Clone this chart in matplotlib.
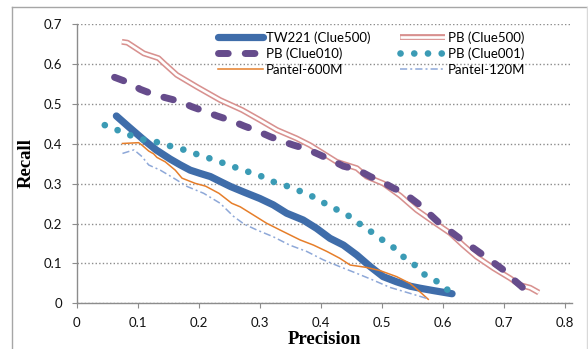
"""Recall/precision curves, Excel-style line chart."""

import matplotlib

matplotlib.use("Agg")
import matplotlib.pyplot as plt
import matplotlib.patheffects as pe
from matplotlib.lines import Line2D
from matplotlib.ticker import FuncFormatter, MultipleLocator

# Data (precision, recall)
tw221_x = [0.065, 0.085, 0.110, 0.130, 0.153, 0.170, 0.186, 0.202, 0.219, 0.236,
           0.252, 0.274, 0.300, 0.322, 0.344, 0.371, 0.393, 0.415, 0.437, 0.459,
           0.481, 0.502, 0.524, 0.546, 0.562, 0.584, 0.615]
tw221_y = [0.470, 0.443, 0.410, 0.385, 0.362, 0.347, 0.334, 0.326, 0.318, 0.305,
           0.293, 0.279, 0.263, 0.247, 0.226, 0.209, 0.188, 0.163, 0.146, 0.121,
           0.092, 0.067, 0.054, 0.043, 0.038, 0.032, 0.024]

pb500_x = [0.074, 0.083, 0.110, 0.134, 0.143, 0.164, 0.197, 0.235, 0.271, 0.300,
           0.328, 0.360, 0.382, 0.404, 0.426, 0.459, 0.475, 0.502, 0.530, 0.557,
           0.584, 0.612, 0.633, 0.655, 0.683, 0.710, 0.726, 0.743, 0.757]
pb500_y = [0.656, 0.654, 0.627, 0.615, 0.602, 0.573, 0.543, 0.510, 0.485, 0.460,
           0.435, 0.414, 0.397, 0.376, 0.355, 0.339, 0.318, 0.301, 0.270, 0.234,
           0.205, 0.176, 0.146, 0.117, 0.088, 0.063, 0.046, 0.039, 0.027]

pb010_x = [0.062, 0.088, 0.104, 0.126, 0.145, 0.170, 0.189, 0.211, 0.230, 0.254,
           0.274, 0.295, 0.317, 0.336, 0.355, 0.377, 0.399, 0.420, 0.437, 0.459,
           0.481, 0.500, 0.519, 0.535, 0.562, 0.595, 0.631, 0.666, 0.699, 0.713,
           0.729, 0.737, 0.751]
pb010_y = [0.567, 0.552, 0.537, 0.524, 0.516, 0.506, 0.493, 0.481, 0.470, 0.458,
           0.445, 0.433, 0.418, 0.407, 0.397, 0.387, 0.372, 0.357, 0.344, 0.336,
           0.318, 0.305, 0.289, 0.278, 0.247, 0.200, 0.159, 0.121, 0.084, 0.063,
           0.042, 0.029, 0.027]

pb001_x = [0.046, 0.066, 0.087, 0.109, 0.130, 0.152, 0.174, 0.195, 0.217, 0.238,
           0.260, 0.281, 0.302, 0.322, 0.343, 0.365, 0.385, 0.405, 0.425, 0.444,
           0.463, 0.482, 0.500, 0.519, 0.535, 0.553, 0.569, 0.589, 0.606, 0.627]
pb001_y = [0.447, 0.435, 0.422, 0.411, 0.405, 0.395, 0.386, 0.375, 0.364, 0.353,
           0.341, 0.330, 0.319, 0.305, 0.295, 0.282, 0.269, 0.252, 0.236, 0.221,
           0.200, 0.180, 0.160, 0.140, 0.117, 0.097, 0.073, 0.056, 0.035, 0.023]

p600_x = [0.075, 0.1015, 0.106, 0.118, 0.126, 0.1315, 0.145, 0.1615, 0.1725, 0.194,
          0.211, 0.233, 0.254, 0.268, 0.289, 0.311, 0.333, 0.366, 0.388, 0.410,
          0.431, 0.448, 0.475, 0.497, 0.524, 0.546, 0.560, 0.576]
p600_y = [0.401, 0.403, 0.398, 0.382, 0.375, 0.366, 0.355, 0.334, 0.314, 0.301,
          0.294, 0.276, 0.251, 0.242, 0.222, 0.201, 0.184, 0.159, 0.146, 0.130,
          0.113, 0.096, 0.090, 0.082, 0.067, 0.050, 0.032, 0.010]

p120_x = [0.075, 0.094, 0.107, 0.118, 0.137, 0.159, 0.181, 0.208, 0.235, 0.257,
          0.274, 0.295, 0.322, 0.349, 0.377, 0.404, 0.431, 0.459, 0.486, 0.513,
          0.546, 0.573]
p120_y = [0.376, 0.385, 0.368, 0.347, 0.334, 0.314, 0.293, 0.276, 0.251, 0.218,
          0.199, 0.184, 0.167, 0.146, 0.130, 0.109, 0.092, 0.075, 0.058, 0.040,
          0.025, 0.0125]

labels = ["TW221 (Clue500)", "PB (Clue500)", "PB (Clue010)", "PB (Clue001)",
          "Pantel-600M", "Pantel-120M"]

# Style
BLUE = "#3F6DAA"
PINK = "#D8918F"
PURPLE = "#664C8C"
TEAL = "#3B9BB5"
ORANGE = "#E67E2A"
LIGHTBLUE = "#8EA8D8"
AXIS_GREY = "#8C8C8C"
TICK_FONT = "Lato"
TICK_SIZE = 9.5

W_PX, H_PX = 588, 349
AX_L, AX_R, AX_T, AX_B = 76.7, 571.7, 24.3, 303.3

fig = plt.figure(figsize=(W_PX / 100, H_PX / 100), dpi=100)
ax = fig.add_axes([AX_L / W_PX, 1 - AX_B / H_PX,
                   (AX_R - AX_L) / W_PX, (AX_B - AX_T) / H_PX])

# 1. Series, in Excel draw order
ax.plot(tw221_x, tw221_y, color=BLUE, lw=5.2, solid_capstyle="round",
        solid_joinstyle="round", label=labels[0], zorder=3)
ax.plot(pb500_x, pb500_y, color="white", lw=1.9, solid_capstyle="butt",
        label=labels[1], zorder=4,
        path_effects=[pe.withStroke(linewidth=4.2, foreground=PINK)])
ax.plot(pb010_x, pb010_y, color=PURPLE, lw=5.0, linestyle=(0, (1.4, 2.45)),
        dash_capstyle="round", label=labels[2], zorder=5)
ax.plot(pb001_x, pb001_y, color=TEAL, lw=4.8, linestyle=(0, (0.01, 2.05)),
        dash_capstyle="round", label=labels[3], zorder=6)
ax.plot(p600_x, p600_y, color=ORANGE, lw=1.1, label=labels[4], zorder=7)
ax.plot(p120_x, p120_y, color=LIGHTBLUE, lw=1.1,
        linestyle=(0, (4.7, 2.0, 1.3, 2.0)), label=labels[5], zorder=8)

# 2. Axes, ticks, grid
ax.set_xlim(0, 0.811)
ax.set_ylim(0, 0.7)
ax.xaxis.set_major_locator(MultipleLocator(0.1))
ax.yaxis.set_major_locator(MultipleLocator(0.1))
fmt = FuncFormatter(lambda v, _: "0" if abs(v) < 1e-9 else f"{v:.1f}")
ax.xaxis.set_major_formatter(fmt)
ax.yaxis.set_major_formatter(fmt)
ax.tick_params(direction="out", length=3.6, width=0.8, color=AXIS_GREY,
               labelsize=TICK_SIZE, labelcolor="#111111")
ax.tick_params(axis="y", pad=7)
ax.tick_params(axis="x", pad=6)
for lab in ax.get_xticklabels() + ax.get_yticklabels():
    lab.set_fontfamily(TICK_FONT)

ax.yaxis.grid(True, linestyle=(0, (1, 1.6)), color=AXIS_GREY, lw=1.0)
ax.set_axisbelow(True)
for side in ("top", "right"):
    ax.spines[side].set_visible(False)
for side in ("left", "bottom"):
    ax.spines[side].set_color(AXIS_GREY)
    ax.spines[side].set_linewidth(1.0)

# 3. Axis titles
title_font = dict(family="Liberation Serif", weight="bold", size=13.5)
fig.text(324 / W_PX, 1 - 344 / H_PX, "Precision", ha="center",
         va="baseline", **title_font)
fig.text(26 / W_PX, 1 - 163 / H_PX, "Recall", rotation=90, ha="center",
         va="center", **title_font)

# 4. Legend as two columns placed separately
handles, _ = ax.get_legend_handles_labels()
leg_kw = dict(frameon=False, handlelength=3.4, handletextpad=0.2,
              labelspacing=0.3, borderpad=0, borderaxespad=0,
              loc="upper left",
              prop={"family": TICK_FONT, "size": TICK_SIZE})
ax_w = AX_R - AX_L
ax_h = AX_B - AX_T
top = 1 - (31 - AX_T) / ax_h
leg1 = ax.legend([handles[0], handles[2], handles[4]],
                 [labels[0], labels[2], labels[4]],
                 bbox_to_anchor=((218 - AX_L) / ax_w, top), **leg_kw)
ax.add_artist(leg1)
ax.legend([handles[1], handles[3], handles[5]],
          [labels[1], labels[3], labels[5]],
          bbox_to_anchor=((400 - AX_L) / ax_w, top), **leg_kw)

# 5. Chart-area border (cropped at bottom)
fig.add_artist(Line2D([11.5 / W_PX, 586.5 / W_PX], [1 - 7 / H_PX] * 2,
                      color="#A6A6A6", lw=1.0))
fig.add_artist(Line2D([11.5 / W_PX] * 2, [0, 1 - 7 / H_PX],
                      color="#A6A6A6", lw=1.0))
fig.add_artist(Line2D([586.5 / W_PX] * 2, [0, 1 - 7 / H_PX],
                      color="#D9D9D9", lw=1.0))

fig.savefig("out.png", dpi=100, facecolor="white")
